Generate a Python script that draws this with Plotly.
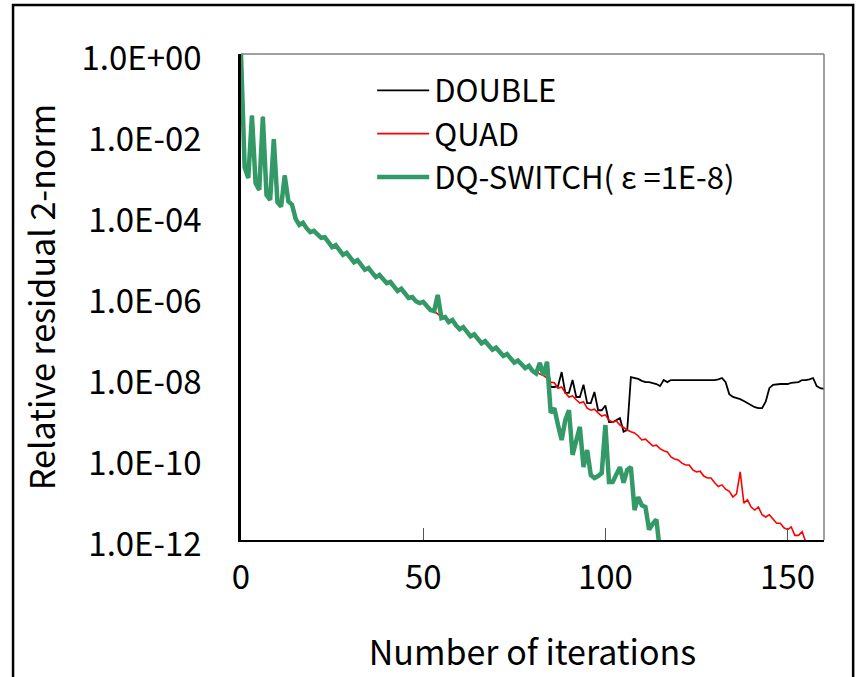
import plotly.graph_objects as go

# ---- data (relative residual 2-norm per iteration) ----
# DOUBLE and DQ-SWITCH are identical until the switch (iteration 84)
double_head = [
    1.0, 1.6e-3, 8.7e-4, 3.0e-2, 6.5e-4, 4.4e-4, 2.8e-2, 3.3e-4, 2.5e-4, 7.9e-3,
    2.2e-4, 1.7e-4, 1.0e-3, 2.3e-4, 1.9e-4, 8.5e-5, 6.0e-5, 6.8e-5, 5.0e-5, 4.0e-5,
    4.3e-5, 3.4e-5, 2.9e-5, 3.0e-5, 2.3e-5, 1.7e-5, 1.9e-5, 1.45e-5, 1.1e-5, 1.23e-5,
    9.1e-6, 7.2e-6, 8.1e-6, 6.2e-6, 4.7e-6, 5.2e-6, 4.2e-6, 3.1e-6, 3.5e-6, 2.75e-6,
    2.2e-6, 2.35e-6, 1.8e-6, 1.4e-6, 1.6e-6, 1.17e-6, 9.5e-7, 1.0e-6, 7.9e-7, 7.1e-7,
    7.6e-7, 6.0e-7, 4.8e-7, 4.5e-7, 1.12e-6, 3.0e-7, 3.2e-7, 2.4e-7, 2.7e-7, 2.0e-7,
    1.6e-7, 1.8e-7, 1.35e-7, 1.07e-7, 1.2e-7, 9.1e-8, 7.2e-8, 8.1e-8, 6.2e-8, 5.0e-8,
    5.6e-8, 4.3e-8, 3.5e-8, 3.9e-8, 3.0e-8, 2.4e-8, 2.7e-8, 2.1e-8, 1.75e-8, 2.0e-8,
    1.5e-8, 1.3e-8, 2.35e-8, 1.17e-8, 2.5e-8,
]
double_tail = [  # iterations 85..160
    6.0e-9, 6.0e-9, 6.3e-9, 1.4e-8, 4.3e-9, 4.3e-9, 8.9e-9, 3.4e-9, 3.4e-9, 6.8e-9,
    2.4e-9, 2.4e-9, 4.5e-9, 1.6e-9, 1.6e-9, 2.1e-9, 8.1e-10, 8.1e-10, 9.1e-10, 1.02e-9,
    4.7e-10, 5.2e-10, 1.05e-8, 1.0e-8, 9.5e-9, 8.5e-9, 7.9e-9, 7.9e-9, 7.6e-9, 7.1e-9,
    6.3e-9, 8.9e-9, 7.9e-9, 8.9e-9, 8.9e-9, 8.9e-9, 8.9e-9, 8.9e-9, 8.9e-9, 8.9e-9,
    8.9e-9, 8.9e-9, 8.9e-9, 8.9e-9, 8.9e-9, 8.9e-9, 9.3e-9, 1.0e-8, 7.9e-9, 4.0e-9,
    3.4e-9, 3.2e-9, 3.0e-9, 2.7e-9, 2.4e-9, 2.1e-9, 1.9e-9, 1.8e-9, 1.8e-9, 2.6e-9,
    5.6e-9, 6.8e-9, 7.1e-9, 7.1e-9, 7.1e-9, 7.1e-9, 7.6e-9, 7.9e-9, 7.9e-9, 8.9e-9,
    8.9e-9, 9.3e-9, 1.0e-8, 6.3e-9, 5.6e-9, 5.4e-9,
]
quad_tail = [  # iterations 53..155 (before 53 QUAD follows DOUBLE)
    4.5e-7, 3.8e-7, 3.2e-7, 3.2e-7, 2.5e-7, 2.7e-7, 2.1e-7, 1.66e-7, 1.8e-7, 1.4e-7,
    1.12e-7, 1.23e-7, 9.5e-8, 7.6e-8, 8.3e-8, 6.5e-8, 5.2e-8, 5.75e-8, 4.5e-8, 3.6e-8,
    4.0e-8, 3.2e-8, 2.5e-8, 2.75e-8, 2.2e-8, 1.8e-8, 2.0e-8, 1.6e-8, 1.38e-8, 1.26e-8,
    1.15e-8, 1.0e-8, 7.9e-9, 7.6e-9, 5.6e-9, 6.0e-9, 4.3e-9, 3.4e-9, 3.6e-9, 2.9e-9,
    2.4e-9, 2.6e-9, 1.8e-9, 1.6e-9, 1.7e-9, 1.38e-9, 1.15e-9, 1.23e-9, 9.1e-10, 8.1e-10,
    8.7e-10, 6.9e-10, 5.9e-10, 5.2e-10, 4.7e-10, 4.4e-10, 3.7e-10, 2.95e-10, 3.1e-10, 2.6e-10,
    2.1e-10, 2.2e-10, 1.8e-10, 1.6e-10, 1.5e-10, 1.12e-10, 1.0e-10, 9.5e-11, 7.9e-11, 7.1e-11,
    7.1e-11, 5.4e-11, 4.8e-11, 5.0e-11, 3.8e-11, 3.4e-11, 3.4e-11, 2.6e-11, 2.1e-11, 2.3e-11,
    1.8e-11, 1.6e-11, 1.15e-11, 1.38e-11, 4.8e-11, 8.1e-12, 9.8e-12, 6.5e-12, 5.5e-12, 6.5e-12,
    4.2e-12, 3.7e-12, 4.2e-12, 3.3e-12, 2.6e-12, 2.6e-12, 2.0e-12, 1.8e-12, 2.1e-12, 1.3e-12,
    1.3e-12, 1.6e-12, 8.9e-13,
]
switch_tail = [  # iterations 85..115 (after switching to quad precision)
    1.38e-9, 1.8e-9, 6.9e-10, 2.95e-10, 9.1e-10, 1.6e-9, 1.26e-10, 2.95e-10, 6.2e-10, 6.3e-11,
    1.66e-10, 4.0e-11, 3.4e-11, 3.8e-11, 4.5e-11, 6.9e-10, 2.7e-11, 2.7e-11, 4.0e-11, 6.3e-11,
    2.6e-11, 5.4e-11, 6.3e-11, 5.5e-12, 1.15e-11, 7.2e-12, 6.5e-12, 1.8e-12, 2.5e-12, 3.2e-12,
    5.0e-13,
]

double_res = double_head + double_tail
quad_res = double_head[:53] + quad_tail
dq_switch_res = double_head + switch_tail

series_names = ["DOUBLE", "QUAD", "DQ-SWITCH( ε =1E-8)"]
x_tick_vals = [0, 50, 100, 150]
y_tick_vals = [1e0, 1e-2, 1e-4, 1e-6, 1e-8, 1e-10, 1e-12]
y_tick_text = ["1.0E+00", "1.0E-02", "1.0E-04", "1.0E-06", "1.0E-08", "1.0E-10", "1.0E-12"]

FONT = "Noto Sans CJK JP"

fig = go.Figure()
fig.add_trace(go.Scatter(x=list(range(len(double_res))), y=double_res, mode="lines",
                         name=series_names[0], line=dict(color="#000000", width=1.8)))
fig.add_trace(go.Scatter(x=list(range(len(quad_res))), y=quad_res, mode="lines",
                         name=series_names[1], line=dict(color="#FF0000", width=1.6)))
fig.add_trace(go.Scatter(x=list(range(len(dq_switch_res))), y=dq_switch_res, mode="lines",
                         name=series_names[2], line=dict(color="#339966", width=4.5)))

fig.update_layout(
    width=856, height=677,
    margin=dict(l=241, r=32, t=54, b=137),
    paper_bgcolor="white", plot_bgcolor="white",
    font=dict(family=FONT, size=33, color="black"),
    showlegend=True,
    legend=dict(x=0.225, y=0.98, xanchor="left", yanchor="top",
                bgcolor="rgba(0,0,0,0)", font=dict(family=FONT, size=31),
                tracegroupgap=0, itemwidth=52),
    xaxis=dict(range=[0, 160], tickvals=x_tick_vals, ticks="inside", ticklen=12,
               tickcolor="#555555", tickwidth=1.2, showgrid=False, zeroline=False,
               showline=True, linecolor="black", linewidth=2,
               ticklabelstandoff=7, tickfont=dict(family=FONT, size=33),
               title=dict(text="Number of iterations", standoff=44,
                          font=dict(family=FONT, size=34))),
    yaxis=dict(type="log", range=[-12, 0], tickvals=y_tick_vals, ticktext=y_tick_text,
               ticks="", showgrid=False, zeroline=False,
               showline=True, linecolor="black", linewidth=2.5,
               ticklabelstandoff=30, ticklabelshift=4, tickfont=dict(family=FONT, size=33),
               title=dict(text="Relative residual 2-norm", standoff=16,
                          font=dict(family=FONT, size=34))),
    shapes=[
        dict(type="line", xref="paper", yref="paper", x0=0, x1=1, y0=1, y1=1,
             line=dict(color="#808080", width=1.5)),
        dict(type="line", xref="paper", yref="paper", x0=1, x1=1, y0=0, y1=1,
             line=dict(color="#808080", width=1.5)),
        dict(type="rect", xref="paper", yref="paper", x0=-0.391, x1=1.050, y0=-0.35, y1=1.101,
             line=dict(color="black", width=2.5), fillcolor="rgba(0,0,0,0)"),
    ],
)

fig.write_html("out.html")
